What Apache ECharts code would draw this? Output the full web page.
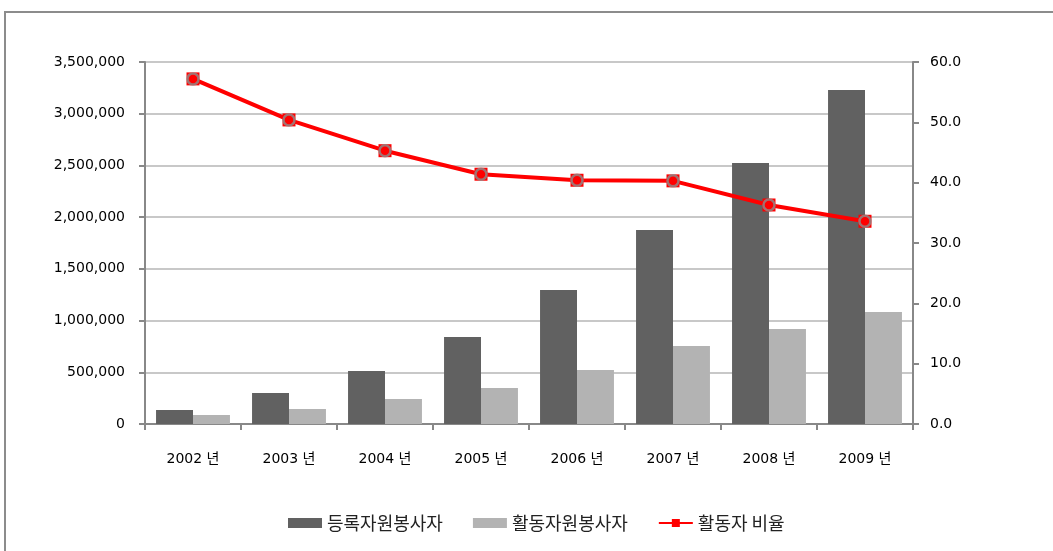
<!DOCTYPE html>
<html>
<head>
<meta charset="utf-8">
<script src="https://cdn.jsdelivr.net/npm/echarts@6/dist/echarts.min.js"></script>
<style>
html,body{margin:0;padding:0;background:#fff;}
#chart{width:1053px;height:551px;}
</style>
</head>
<body>
<div id="chart"></div>
<script>
// 연도별 자원봉사자 데이터
var years = ['2002년', '2003년', '2004년', '2005년', '2006년', '2007년', '2008년', '2009년'];
var registered = [135000, 300000, 512000, 841000, 1296000, 1876000, 2523000, 3230000];
var active = [87000, 145000, 242000, 348000, 522000, 754000, 918000, 1083000];
var ratio = [57.2, 50.4, 45.3, 41.4, 40.4, 40.3, 36.3, 33.6];

var numFont = 'DejaVu Sans, Noto Sans CJK KR, sans-serif';
var krFont = 'Noto Sans CJK KR, sans-serif';

var myChart = echarts.init(document.getElementById('chart'));

var option = {
	animation: false,
	backgroundColor: '#fff',
	graphic: [{
		type: 'rect',
		shape: { x: 5, y: 12, width: 1100, height: 600 },
		style: { fill: 'none', stroke: '#8c8c8c', lineWidth: 2 },
		silent: true
	}],
	legend: {
		top: 514,
		left: 288,
		padding: 0,
		itemGap: 30,
		itemWidth: 34,
		itemHeight: 10,
		textStyle: { fontFamily: krFont, fontSize: 18, color: '#222' },
		data: [
			{ name: '등록자원봉사자', icon: 'rect' },
			{ name: '활동자원봉사자', icon: 'rect' },
			{ name: '활동자 비율' }
		]
	},
	grid: { left: 145, right: 140, top: 62, bottom: 127 },
	xAxis: {
		type: 'category',
		data: years,
		axisLine: { lineStyle: { color: '#888', width: 2 } },
		axisTick: { show: true, length: 6, lineStyle: { color: '#888', width: 2 } },
		axisLabel: {
			margin: 28, fontFamily: numFont, fontSize: 14, color: '#000',
			formatter: function(v) { return v.replace('년', ' 년'); }
		}
	},
	yAxis: [{
		type: 'value',
		min: 0,
		max: 3500000,
		interval: 500000,
		axisLine: { show: true, lineStyle: { color: '#888', width: 2 } },
		axisTick: { show: true, length: 6, lineStyle: { color: '#888', width: 2 } },
		splitLine: { lineStyle: { color: '#c8c8c8', width: 2 } },
		axisLabel: {
			margin: 20,
			fontFamily: numFont, fontSize: 14, color: '#000',
			formatter: function(v) { return v.toLocaleString('en-US'); }
		}
	}, {
		type: 'value',
		min: 0,
		max: 60,
		interval: 10,
		position: 'right',
		axisLine: { show: true, lineStyle: { color: '#888', width: 2 } },
		axisTick: { show: true, length: 6, lineStyle: { color: '#888', width: 2 } },
		splitLine: { show: false },
		axisLabel: {
			margin: 17,
			fontFamily: numFont, fontSize: 14, color: '#000',
			formatter: function(v) { return v.toFixed(1); }
		}
	}],
	series: [{
		name: '등록자원봉사자',
		type: 'bar',
		data: registered,
		barGap: '0%',
		barCategoryGap: '23%',
		itemStyle: { color: '#616161' }
	}, {
		name: '활동자원봉사자',
		type: 'bar',
		data: active,
		itemStyle: { color: '#b3b3b3' }
	}, {
		name: '활동자 비율',
		type: 'line',
		yAxisIndex: 1,
		data: ratio,
		symbol: 'rect',
		symbolSize: 13,
		lineStyle: { color: '#ff0000', width: 4 },
		itemStyle: { color: '#ff0000' },
		z: 5
	}, {
		name: 'ratio-marker',
		type: 'scatter',
		yAxisIndex: 1,
		data: ratio,
		symbol: 'circle',
		symbolSize: 11,
		itemStyle: { color: '#ff0000', borderColor: '#8c8c8c', borderWidth: 2.5 },
		z: 6
	}]
};

myChart.setOption(option);
</script>
</body>
</html>
